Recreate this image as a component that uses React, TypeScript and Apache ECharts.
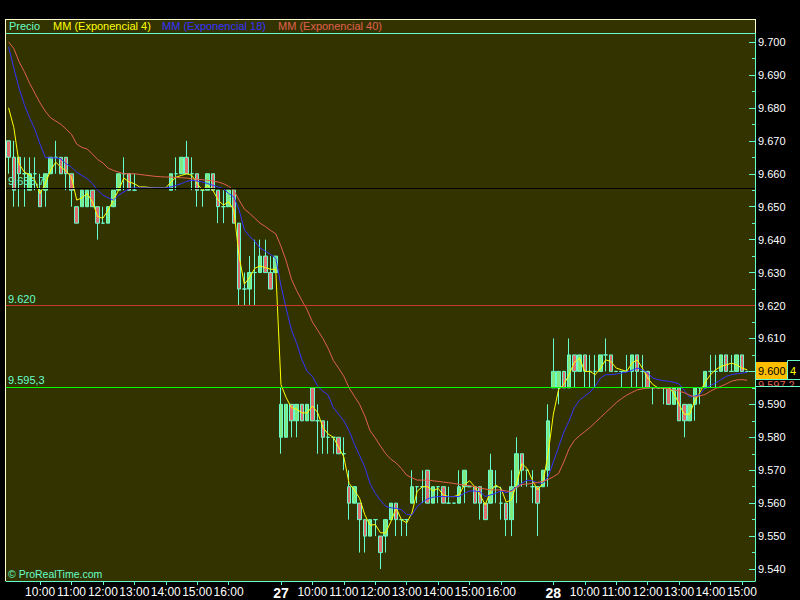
import { useEffect, useRef } from 'react';
import * as echarts from 'echarts';

// ---- axes ----
const days = ['26', '27', '28'];
const barsPerDay = [52, 52, 39]; // 10-minute bars from 09:00
const sessionStartMinutes = 9 * 60;
const barMinutes = 10;
const hourLabels = ['10:00', '11:00', '12:00', '13:00', '14:00', '15:00', '16:00'];
const yTickLabels = ['9.540', '9.550', '9.560', '9.570', '9.580', '9.590', '9.600', '9.610', '9.620', '9.630', '9.640', '9.650', '9.660', '9.670', '9.680', '9.690', '9.700'];
const yMinorTicks = ['9.545', '9.555', '9.565', '9.575', '9.585', '9.595', '9.605', '9.615', '9.625', '9.635', '9.645', '9.655', '9.665', '9.675', '9.685', '9.695'];
const yMin = 9.53637;
const yMax = 9.70273;

// ---- price bars: [open, close, low, high] ----
type Candle = [number, number, number, number] | null;
const candlesDay26: Candle[] = [
  [9.670, 9.665, 9.660, 9.670], [9.665, 9.655, 9.650, 9.670], [9.665, 9.660, 9.650, 9.665], [9.660, 9.660, 9.650, 9.665],
  [9.655, 9.660, 9.655, 9.665], [9.660, 9.660, 9.655, 9.665], [9.655, 9.650, 9.650, 9.660], [9.655, 9.660, 9.650, 9.660],
  [9.660, 9.665, 9.660, 9.665], [9.665, 9.665, 9.660, 9.670], [9.665, 9.660, 9.660, 9.665], [9.665, 9.660, 9.655, 9.665],
  [9.660, 9.655, 9.650, 9.660], [9.650, 9.645, 9.645, 9.650], [9.650, 9.655, 9.650, 9.655], [9.650, 9.655, 9.650, 9.655],
  [9.655, 9.650, 9.650, 9.655], [9.650, 9.645, 9.640, 9.650], [9.645, 9.645, 9.645, 9.650], [9.645, 9.650, 9.645, 9.650],
  [9.650, 9.655, 9.650, 9.655], [9.655, 9.660, 9.655, 9.660], [9.660, 9.660, 9.655, 9.665], [9.660, 9.655, 9.655, 9.660],
  [9.655, 9.655, 9.655, 9.660], null, null, null, null, null, null,
  [9.655, 9.660, 9.655, 9.660], [9.660, 9.660, 9.655, 9.665], [9.660, 9.665, 9.660, 9.665], [9.665, 9.660, 9.660, 9.670],
  [9.660, 9.660, 9.655, 9.665], [9.660, 9.655, 9.650, 9.660], [9.655, 9.655, 9.650, 9.655], [9.655, 9.660, 9.655, 9.660],
  [9.660, 9.655, 9.655, 9.660], [9.655, 9.650, 9.645, 9.655], [9.650, 9.650, 9.645, 9.655], [9.650, 9.655, 9.650, 9.655],
  [9.655, 9.645, 9.645, 9.655], [9.645, 9.625, 9.620, 9.645], [9.625, 9.625, 9.620, 9.630], [9.625, 9.630, 9.620, 9.635],
  [9.630, 9.630, 9.620, 9.640], [9.630, 9.635, 9.630, 9.640], [9.635, 9.630, 9.630, 9.640], [9.630, 9.625, 9.625, 9.635],
  [9.630, 9.635, 9.630, 9.635],
];
const candlesDay27: Candle[] = [
  [9.580, 9.590, 9.575, 9.595], [9.580, 9.590, 9.580, 9.590], [9.590, 9.585, 9.580, 9.590], [9.585, 9.590, 9.580, 9.590],
  [9.590, 9.585, 9.585, 9.590], [9.585, 9.590, 9.585, 9.590], [9.595, 9.585, 9.585, 9.595], [9.585, 9.585, 9.575, 9.590],
  [9.585, 9.580, 9.575, 9.585], [9.580, 9.580, 9.575, 9.585], [9.580, 9.580, 9.575, 9.580], [9.580, 9.575, 9.575, 9.580],
  [9.575, 9.575, 9.570, 9.580], [9.565, 9.560, 9.555, 9.570], [9.560, 9.565, 9.560, 9.565], [9.560, 9.555, 9.545, 9.560],
  [9.555, 9.550, 9.545, 9.555], [9.550, 9.555, 9.550, 9.555], [9.555, 9.555, 9.550, 9.555], [9.550, 9.545, 9.540, 9.550],
  [9.550, 9.555, 9.545, 9.555], [9.555, 9.560, 9.555, 9.560], [9.560, 9.555, 9.550, 9.560], [9.555, 9.555, 9.550, 9.555],
  [9.555, 9.555, 9.550, 9.555], [9.560, 9.565, 9.560, 9.570], [9.565, 9.565, 9.560, 9.565], [9.565, 9.565, 9.560, 9.570],
  [9.570, 9.560, 9.560, 9.570], [9.560, 9.565, 9.560, 9.565], [9.565, 9.565, 9.560, 9.565], [9.565, 9.560, 9.560, 9.565],
  [9.560, 9.560, 9.560, 9.565], [9.560, 9.560, 9.560, 9.560], [9.560, 9.565, 9.560, 9.570], [9.565, 9.570, 9.560, 9.570],
  [9.565, 9.565, 9.565, 9.565], [9.565, 9.560, 9.560, 9.565], [9.565, 9.560, 9.555, 9.565], [9.560, 9.555, 9.555, 9.560],
  [9.560, 9.570, 9.560, 9.575], [9.565, 9.565, 9.560, 9.570], [9.560, 9.560, 9.555, 9.565], [9.560, 9.555, 9.550, 9.560],
  [9.555, 9.565, 9.550, 9.570], [9.565, 9.575, 9.560, 9.580], [9.575, 9.570, 9.565, 9.575], [9.570, 9.570, 9.565, 9.570],
  [9.565, 9.565, 9.560, 9.570], [9.565, 9.560, 9.550, 9.565], [9.565, 9.570, 9.565, 9.570], [9.570, 9.585, 9.565, 9.590],
];
const candlesDay28: Candle[] = [
  [9.595, 9.600, 9.595, 9.610], [9.595, 9.600, 9.590, 9.600], [9.600, 9.595, 9.595, 9.600], [9.595, 9.605, 9.595, 9.610],
  [9.605, 9.600, 9.595, 9.605], [9.600, 9.605, 9.600, 9.605], [9.605, 9.600, 9.595, 9.605], [9.600, 9.600, 9.595, 9.605],
  [9.600, 9.600, 9.595, 9.605], [9.600, 9.605, 9.600, 9.605], [9.605, 9.605, 9.600, 9.610], [9.605, 9.600, 9.600, 9.605],
  [9.600, 9.600, 9.600, 9.600], [9.600, 9.600, 9.595, 9.600], [9.600, 9.600, 9.600, 9.605], [9.600, 9.605, 9.595, 9.605],
  [9.605, 9.600, 9.595, 9.605], [9.600, 9.600, 9.595, 9.605], [9.600, 9.595, 9.595, 9.600], [9.595, 9.595, 9.590, 9.595],
  [9.595, 9.595, 9.595, 9.595], [9.595, 9.595, 9.590, 9.595], [9.595, 9.590, 9.590, 9.595], [9.590, 9.595, 9.590, 9.595],
  [9.595, 9.585, 9.585, 9.595], [9.590, 9.585, 9.580, 9.590], [9.585, 9.590, 9.585, 9.590], [9.590, 9.595, 9.585, 9.595],
  [9.595, 9.595, 9.590, 9.595], [9.595, 9.600, 9.595, 9.600], [9.600, 9.600, 9.595, 9.605], [9.600, 9.600, 9.595, 9.605],
  [9.600, 9.605, 9.600, 9.605], [9.605, 9.600, 9.600, 9.605], [9.600, 9.600, 9.600, 9.605], [9.600, 9.605, 9.600, 9.605],
  [9.605, 9.600, 9.600, 9.605], [9.600, 9.600, 9.600, 9.600], null,
];

// ---- moving averages ----
const ema4 = [
  9.680, 9.674, 9.663, 9.6605, 9.6597, 9.658, 9.654, 9.657, 9.661, 9.6635,
  9.662, 9.6608, 9.659, 9.652, 9.6527, 9.654, 9.6515, 9.647, 9.6465, 9.649,
  9.652, 9.655, 9.6587, 9.6575, 9.657, 9.656, 9.656, 9.6558, 9.6557, 9.6557,
  9.6557, 9.6575, 9.659, 9.6595, 9.660, 9.6595, 9.657, 9.655, 9.6565, 9.655,
  9.652, 9.6505, 9.6515, 9.649, 9.635, 9.6265, 9.6285, 9.6313, 9.632, 9.6315,
  9.631, 9.631, 9.596, 9.592, 9.589, 9.5885, 9.5874, 9.5874, 9.5895, 9.5875,
  9.583, 9.581, 9.580, 9.577, 9.574, 9.566, 9.564, 9.5615, 9.5565, 9.5533,
  9.5535, 9.551, 9.551, 9.5545, 9.5585, 9.555, 9.554, 9.557, 9.5636, 9.565,
  9.565, 9.5637, 9.5645, 9.5625, 9.562, 9.562, 9.5625, 9.5655, 9.5668, 9.565,
  9.5625, 9.5595, 9.5635, 9.5655, 9.5645, 9.5603, 9.561, 9.566, 9.572, 9.5705,
  9.567, 9.564, 9.566, 9.575, 9.587, 9.5945, 9.596, 9.599, 9.6027, 9.604,
  9.600, 9.600, 9.599, 9.601, 9.6035, 9.603, 9.601, 9.6005, 9.600, 9.6025,
  9.6035, 9.601, 9.598, 9.596, 9.595, 9.595, 9.595, 9.5935, 9.590, 9.587,
  9.587, 9.591, 9.5937, 9.5968, 9.599, 9.6005, 9.6015, 9.602, 9.6025, 9.602,
  9.601, 9.6005,
];
const ema18 = [
  9.6985, 9.692, 9.686, 9.681, 9.677, 9.6735, 9.669, 9.665, 9.6648, 9.6648,
  9.6645, 9.663, 9.662, 9.6605, 9.6595, 9.6585, 9.657, 9.655, 9.6535, 9.6527,
  9.652, 9.6535, 9.6545, 9.6555, 9.6557, 9.6557, 9.6557, 9.6557, 9.6557, 9.6557,
  9.6557, 9.656, 9.6565, 9.657, 9.6577, 9.658, 9.6578, 9.6575, 9.657, 9.6565,
  9.656, 9.6555, 9.654, 9.653, 9.649, 9.643, 9.641, 9.6395, 9.6375, 9.6365,
  9.6355, 9.6344, 9.626, 9.619, 9.6126, 9.6085, 9.6035, 9.600, 9.5985, 9.5955,
  9.594, 9.5928, 9.589, 9.587, 9.585, 9.582, 9.578, 9.5745, 9.571, 9.566,
  9.563, 9.5608, 9.559, 9.5586, 9.5584, 9.558, 9.5566, 9.5564, 9.559, 9.5603,
  9.5613, 9.5618, 9.562, 9.562, 9.562, 9.562, 9.562, 9.563, 9.5637, 9.5637,
  9.5635, 9.562, 9.5625, 9.563, 9.5637, 9.5632, 9.5638, 9.565, 9.566, 9.567,
  9.5668, 9.5662, 9.566, 9.568, 9.5725, 9.577, 9.5815, 9.585, 9.589, 9.5913,
  9.5925, 9.5937, 9.5955, 9.598, 9.599, 9.599, 9.5992, 9.5995, 9.5998, 9.6003,
  9.601, 9.6005, 9.5995, 9.598, 9.5975, 9.5972, 9.597, 9.5967, 9.5962, 9.5942,
  9.5922, 9.5925, 9.593, 9.595, 9.5957, 9.5965, 9.5975, 9.5985, 9.599, 9.5993,
  9.5995, 9.5997,
];
const ema40 = [
  9.700, 9.698, 9.694, 9.691, 9.6875, 9.6845, 9.6815, 9.679, 9.677, 9.676,
  9.675, 9.6735, 9.672, 9.669, 9.668, 9.6675, 9.666, 9.6643, 9.6633, 9.6617,
  9.661, 9.6605, 9.660, 9.660, 9.660, 9.6598, 9.6596, 9.6594, 9.6592, 9.6591,
  9.659, 9.659, 9.6589, 9.6588, 9.6587, 9.6585, 9.6583, 9.6582, 9.658, 9.6578,
  9.6575, 9.657, 9.6562, 9.655, 9.652, 9.6493, 9.648, 9.6465, 9.645, 9.644,
  9.6428, 9.6418, 9.638, 9.6335, 9.628, 9.6245, 9.6215, 9.6187, 9.615, 9.6125,
  9.610, 9.607, 9.6033, 9.601, 9.5985, 9.595, 9.5925, 9.590, 9.5865, 9.582,
  9.5798, 9.5773, 9.575, 9.5733, 9.5722, 9.5705, 9.5685, 9.5677, 9.567, 9.567,
  9.567, 9.5668, 9.5666, 9.5664, 9.5662, 9.566, 9.5657, 9.5655, 9.5653, 9.565,
  9.5646, 9.5643, 9.564, 9.564, 9.564, 9.5637, 9.5635, 9.5648, 9.5657, 9.5658,
  9.566, 9.5663, 9.5666, 9.5672, 9.568, 9.569, 9.5725, 9.5765, 9.579, 9.5805,
  9.5817, 9.583, 9.5845, 9.586, 9.5875, 9.589, 9.5905, 9.5917, 9.5928, 9.5936,
  9.5944, 9.5947, 9.595, 9.595, 9.595, 9.595, 9.5947, 9.5944, 9.594, 9.5935,
  9.5928, 9.5922, 9.5926, 9.593, 9.594, 9.5948, 9.5955, 9.5962, 9.597, 9.5974,
  9.5975, 9.5973,
];

// ---- horizontal levels ----
const levelValues = [9.6557, 9.62, 9.5953];
const levelLabels = ['9.655,7', '9.620', '9.595,3'];
const levelColors = ['#000000', '#c83a24', '#00ff00'];

const legendNames = ['Precio', 'MM (Exponencial 4)', 'MM (Exponencial 18)', 'MM (Exponencial 40)'];
const lastPriceText = '9.600';
const lastEma40Text = '9.597,2';

// ---- styles ----
const TEAL = '#66ffcc';
const OLIVE = '#333300';
const CREAM = '#ffffcc';
const YELLOW = '#ffff00';
const BLUE = '#3333ff';
const SALMON = '#e0604f';
const FONT = '"Liberation Sans", Arial, sans-serif';

const categories: string[] = [];
days.forEach((d, di) => {
  for (let j = 0; j < barsPerDay[di]; j++) {
    const m = sessionStartMinutes + barMinutes * j;
    const hh = String(Math.floor(m / 60)).padStart(2, '0');
    const mm = String(m % 60).padStart(2, '0');
    categories.push(`${d} ${hh}:${mm}`);
  }
});

const showLabel = (idx: number): boolean => {
  const c = categories[idx];
  if (!c) return false;
  const [d, t] = c.split(' ');
  if (t === '09:00') return d !== days[0];
  return hourLabels.includes(t);
};

const candles = [...candlesDay26, ...candlesDay27, ...candlesDay28].map((c) => (c ? c : ['-', '-', '-', '-']));
const emptyLine = categories.map(() => '-');

const legendX = [9, 53, 162, 278];
const legendColors = [TEAL, YELLOW, BLUE, SALMON];

const levelSeries = levelValues.map((v, i) => ({
  type: 'line',
  name: `level-${i}`,
  data: emptyLine,
  showSymbol: false,
  symbol: 'none',
  color: levelColors[i],
  lineStyle: { color: levelColors[i] },
  z: 1,
  markLine: {
    silent: true,
    symbol: 'none',
    precision: 4,
    emphasis: { disabled: true },
    lineStyle: { type: 'solid', width: 1, color: levelColors[i], opacity: 1 },
    label: { position: 'insideStartTop', color: TEAL, fontSize: 11, fontFamily: FONT, distance: [2, 1], formatter: levelLabels[i] },
    data: [{ yAxis: v }],
  },
}));

const option: any = {
  animation: false,
  backgroundColor: '#000000',
  grid: { left: 6, right: 45, top: 33, bottom: 19, show: true, backgroundColor: OLIVE, borderWidth: 0 },
  xAxis: {
    type: 'category',
    data: categories,
    boundaryGap: true,
    axisLine: { show: true, lineStyle: { color: TEAL, width: 1 } },
    axisTick: { show: true, interval: (i: number) => showLabel(i), alignWithLabel: true, length: 4, lineStyle: { color: TEAL } },
    axisLabel: {
      interval: (i: number) => showLabel(i),
      formatter: (v: string) => {
        const [d, t] = v.split(' ');
        return t === '09:00' ? `{d|${d}}` : t;
      },
      color: '#ffffff',
      fontSize: 12,
      fontFamily: FONT,
      margin: 5,
      rich: { d: { fontWeight: 'bold', fontSize: 14, color: '#ffffff', fontFamily: FONT } },
    },
    splitLine: { show: false },
  },
  yAxis: [
    {
      type: 'value',
      position: 'right',
      min: yMin,
      max: yMax,
      axisLine: { show: true, lineStyle: { color: TEAL, width: 1 } },
      axisTick: { show: true, inside: true, length: 6, lineStyle: { color: TEAL }, customValues: yTickLabels.map(Number) },
      axisLabel: {
        customValues: yTickLabels.map(Number),
        formatter: (v: number) => v.toFixed(3),
        color: '#ffffff',
        fontSize: 11,
        fontFamily: FONT,
        margin: 3,
      },
      splitLine: { show: false },
    },
    {
      type: 'value',
      position: 'right',
      min: yMin,
      max: yMax,
      axisLine: { show: false },
      axisTick: { show: true, inside: true, length: 3, lineStyle: { color: TEAL }, customValues: yMinorTicks.map(Number) },
      axisLabel: { show: false },
      splitLine: { show: false },
    },
  ],
  series: [
    ...levelSeries,
    {
      type: 'candlestick',
      name: 'Precio',
      data: candles,
      barWidth: 4,
      z: 2,
      itemStyle: { color: '#7fe87f', color0: '#e07070', borderColor: TEAL, borderColor0: TEAL, borderWidth: 1 },
    },
    { type: 'line', name: legendNames[1], data: ema4, showSymbol: false, symbol: 'none', lineStyle: { color: YELLOW, width: 1 }, z: 3 },
    { type: 'line', name: legendNames[2], data: ema18, showSymbol: false, symbol: 'none', lineStyle: { color: BLUE, width: 1 }, z: 3 },
    { type: 'line', name: legendNames[3], data: ema40, showSymbol: false, symbol: 'none', lineStyle: { color: SALMON, width: 1 }, z: 3 },
  ],
  graphic: [
    { type: 'rect', z: 100, shape: { x: 5, y: 19, width: 750, height: 14 }, style: { fill: OLIVE } },
    { type: 'line', z: 101, shape: { x1: 5, y1: 19.5, x2: 756, y2: 19.5 }, style: { stroke: CREAM, lineWidth: 1 } },
    { type: 'line', z: 101, shape: { x1: 5.5, y1: 19, x2: 5.5, y2: 581 }, style: { stroke: CREAM, lineWidth: 1 } },
    { type: 'line', z: 101, shape: { x1: 755.5, y1: 19, x2: 755.5, y2: 33 }, style: { stroke: CREAM, lineWidth: 1 } },
    { type: 'line', z: 101, shape: { x1: 6, y1: 33.5, x2: 755, y2: 33.5 }, style: { stroke: TEAL, lineWidth: 1 } },
    ...legendNames.map((n, i) => ({
      type: 'text', z: 102, x: legendX[i], y: 26,
      style: { text: n, fill: legendColors[i], fontSize: 11, fontFamily: FONT, verticalAlign: 'middle' },
    })),
    { type: 'text', z: 102, x: 8, y: 574, style: { text: '© ProRealTime.com', fill: TEAL, fontSize: 10.5, fontFamily: FONT, verticalAlign: 'middle' } },
    // last price tag
    { type: 'rect', z: 102, shape: { x: 756, y: 362, width: 31, height: 17 }, style: { fill: '#ffbf00' } },
    { type: 'text', z: 103, x: 758, y: 371, style: { text: lastPriceText, fill: '#000000', fontSize: 11, fontFamily: FONT, verticalAlign: 'middle' } },
    { type: 'text', z: 103, x: 790, y: 371, style: { text: '4', fill: YELLOW, fontSize: 11, fontFamily: FONT, verticalAlign: 'middle' } },
    { type: 'rect', z: 103, shape: { x: 787.5, y: 360.5, width: 13, height: 19 }, style: { fill: 'none', stroke: TEAL, lineWidth: 1 } },
    { type: 'text', z: 102, x: 758, y: 379, style: { text: lastEma40Text, fill: SALMON, fontSize: 11, fontFamily: FONT, verticalAlign: 'top' } },
    { type: 'rect', z: 103, shape: { x: 756, y: 387, width: 44, height: 9 }, style: { fill: '#000000' } },
    { type: 'rect', z: 104, shape: { x: 755.5, y: 379.5, width: 45, height: 7 }, style: { fill: 'none', stroke: TEAL, lineWidth: 1 } },
  ],
};

export default function App() {
  const ref = useRef<HTMLDivElement>(null);
  useEffect(() => {
    if (!ref.current) return;
    const chart = echarts.init(ref.current, undefined, { renderer: 'svg' });
    chart.setOption(option);
    return () => chart.dispose();
  }, []);
  return <div ref={ref} style={{ position: 'absolute', left: 0, top: 0, width: 800, height: 600, background: '#000' }} />;
}
